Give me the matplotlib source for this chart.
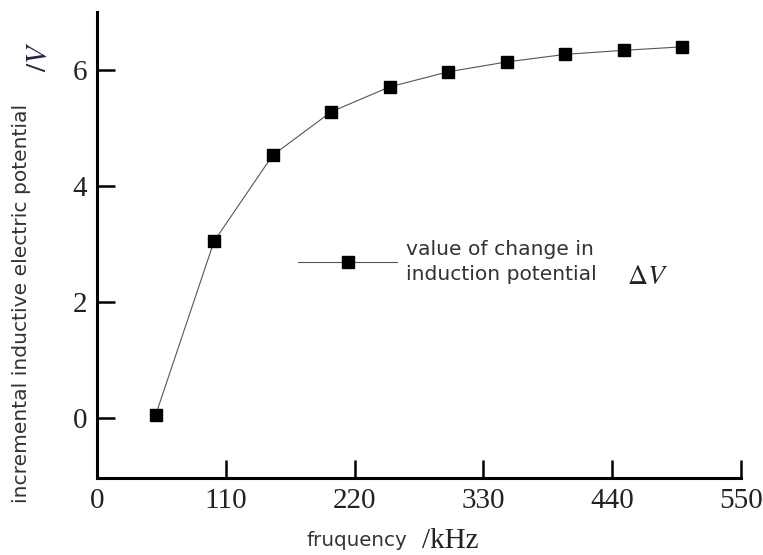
import matplotlib
matplotlib.use("Agg")
import matplotlib.pyplot as plt

freq_khz = [50, 100, 150, 200, 250, 300, 350, 400, 450, 500]
delta_v = [0.05, 3.05, 4.53, 5.28, 5.71, 5.97, 6.14, 6.27, 6.34, 6.40]
x_ticks = [0, 110, 220, 330, 440, 550]
y_ticks = [0, 2, 4, 6]

plt.rcParams['mathtext.fontset'] = 'stix'
serif = 'Liberation Serif'
sans = 'DejaVu Sans'

fig = plt.figure(figsize=(7.63, 5.55), dpi=100)
ax = fig.add_axes([97/763, 1-478/555, (741-97)/763, (478-12)/555])

ax.plot(freq_khz, delta_v, color='#555555', lw=0.8, marker='s', ms=9,
        mfc='black', mec='black', zorder=3)

ax.set_xlim(0, 550)
ax.set_ylim(-1.03, 7.0)
ax.set_xticks(x_ticks)
ax.set_yticks(y_ticks)
ax.spines['top'].set_visible(False)
ax.spines['right'].set_visible(False)
for s in ('left', 'bottom'):
    ax.spines[s].set_linewidth(2.2)
ax.tick_params(direction='in', length=13, width=1.8, pad=7, labelsize=21)
for lab in ax.get_xticklabels() + ax.get_yticklabels():
    lab.set_family(serif)
    lab.set_color('#222222')

# axis labels
fig.text(22/763, 1-303/555, 'incremental inductive electric potential', rotation=90,
         ha='center', va='center', family=sans, fontsize=14.6, color='#333333')
fig.text(38/763, 1-57/555, r'$/V$', rotation=90, ha='center', va='center',
         fontsize=21, color='#222244')
fig.text(357/763, 1-540/555, 'fruquency', ha='center', va='center',
         family=sans, fontsize=14.3, color='#333333')
fig.text(450/763, 1-541/555, '/kHz', ha='center', va='center',
         family=serif, fontsize=21, color='#222222')

# legend
fig.lines.append(plt.Line2D([298/763, 397/763], [1-262/555, 1-262/555],
                            transform=fig.transFigure, color='#555555', lw=0.8))
fig.lines.append(plt.Line2D([348/763], [1-262/555], transform=fig.transFigure,
                            marker='s', ms=9, mfc='black', mec='black', lw=0))
fig.text(406/763, 1-249/555, 'value of change in', ha='left', va='center',
         family=sans, fontsize=14.6, color='#333333')
fig.text(406/763, 1-274/555, 'induction potential', ha='left', va='center',
         family=sans, fontsize=14.6, color='#333333')
fig.text(627/763, 1-276/555, r'$\Delta V$', ha='left', va='center',
         fontsize=20, color='#222222')

fig.savefig('out.png', dpi=100)
